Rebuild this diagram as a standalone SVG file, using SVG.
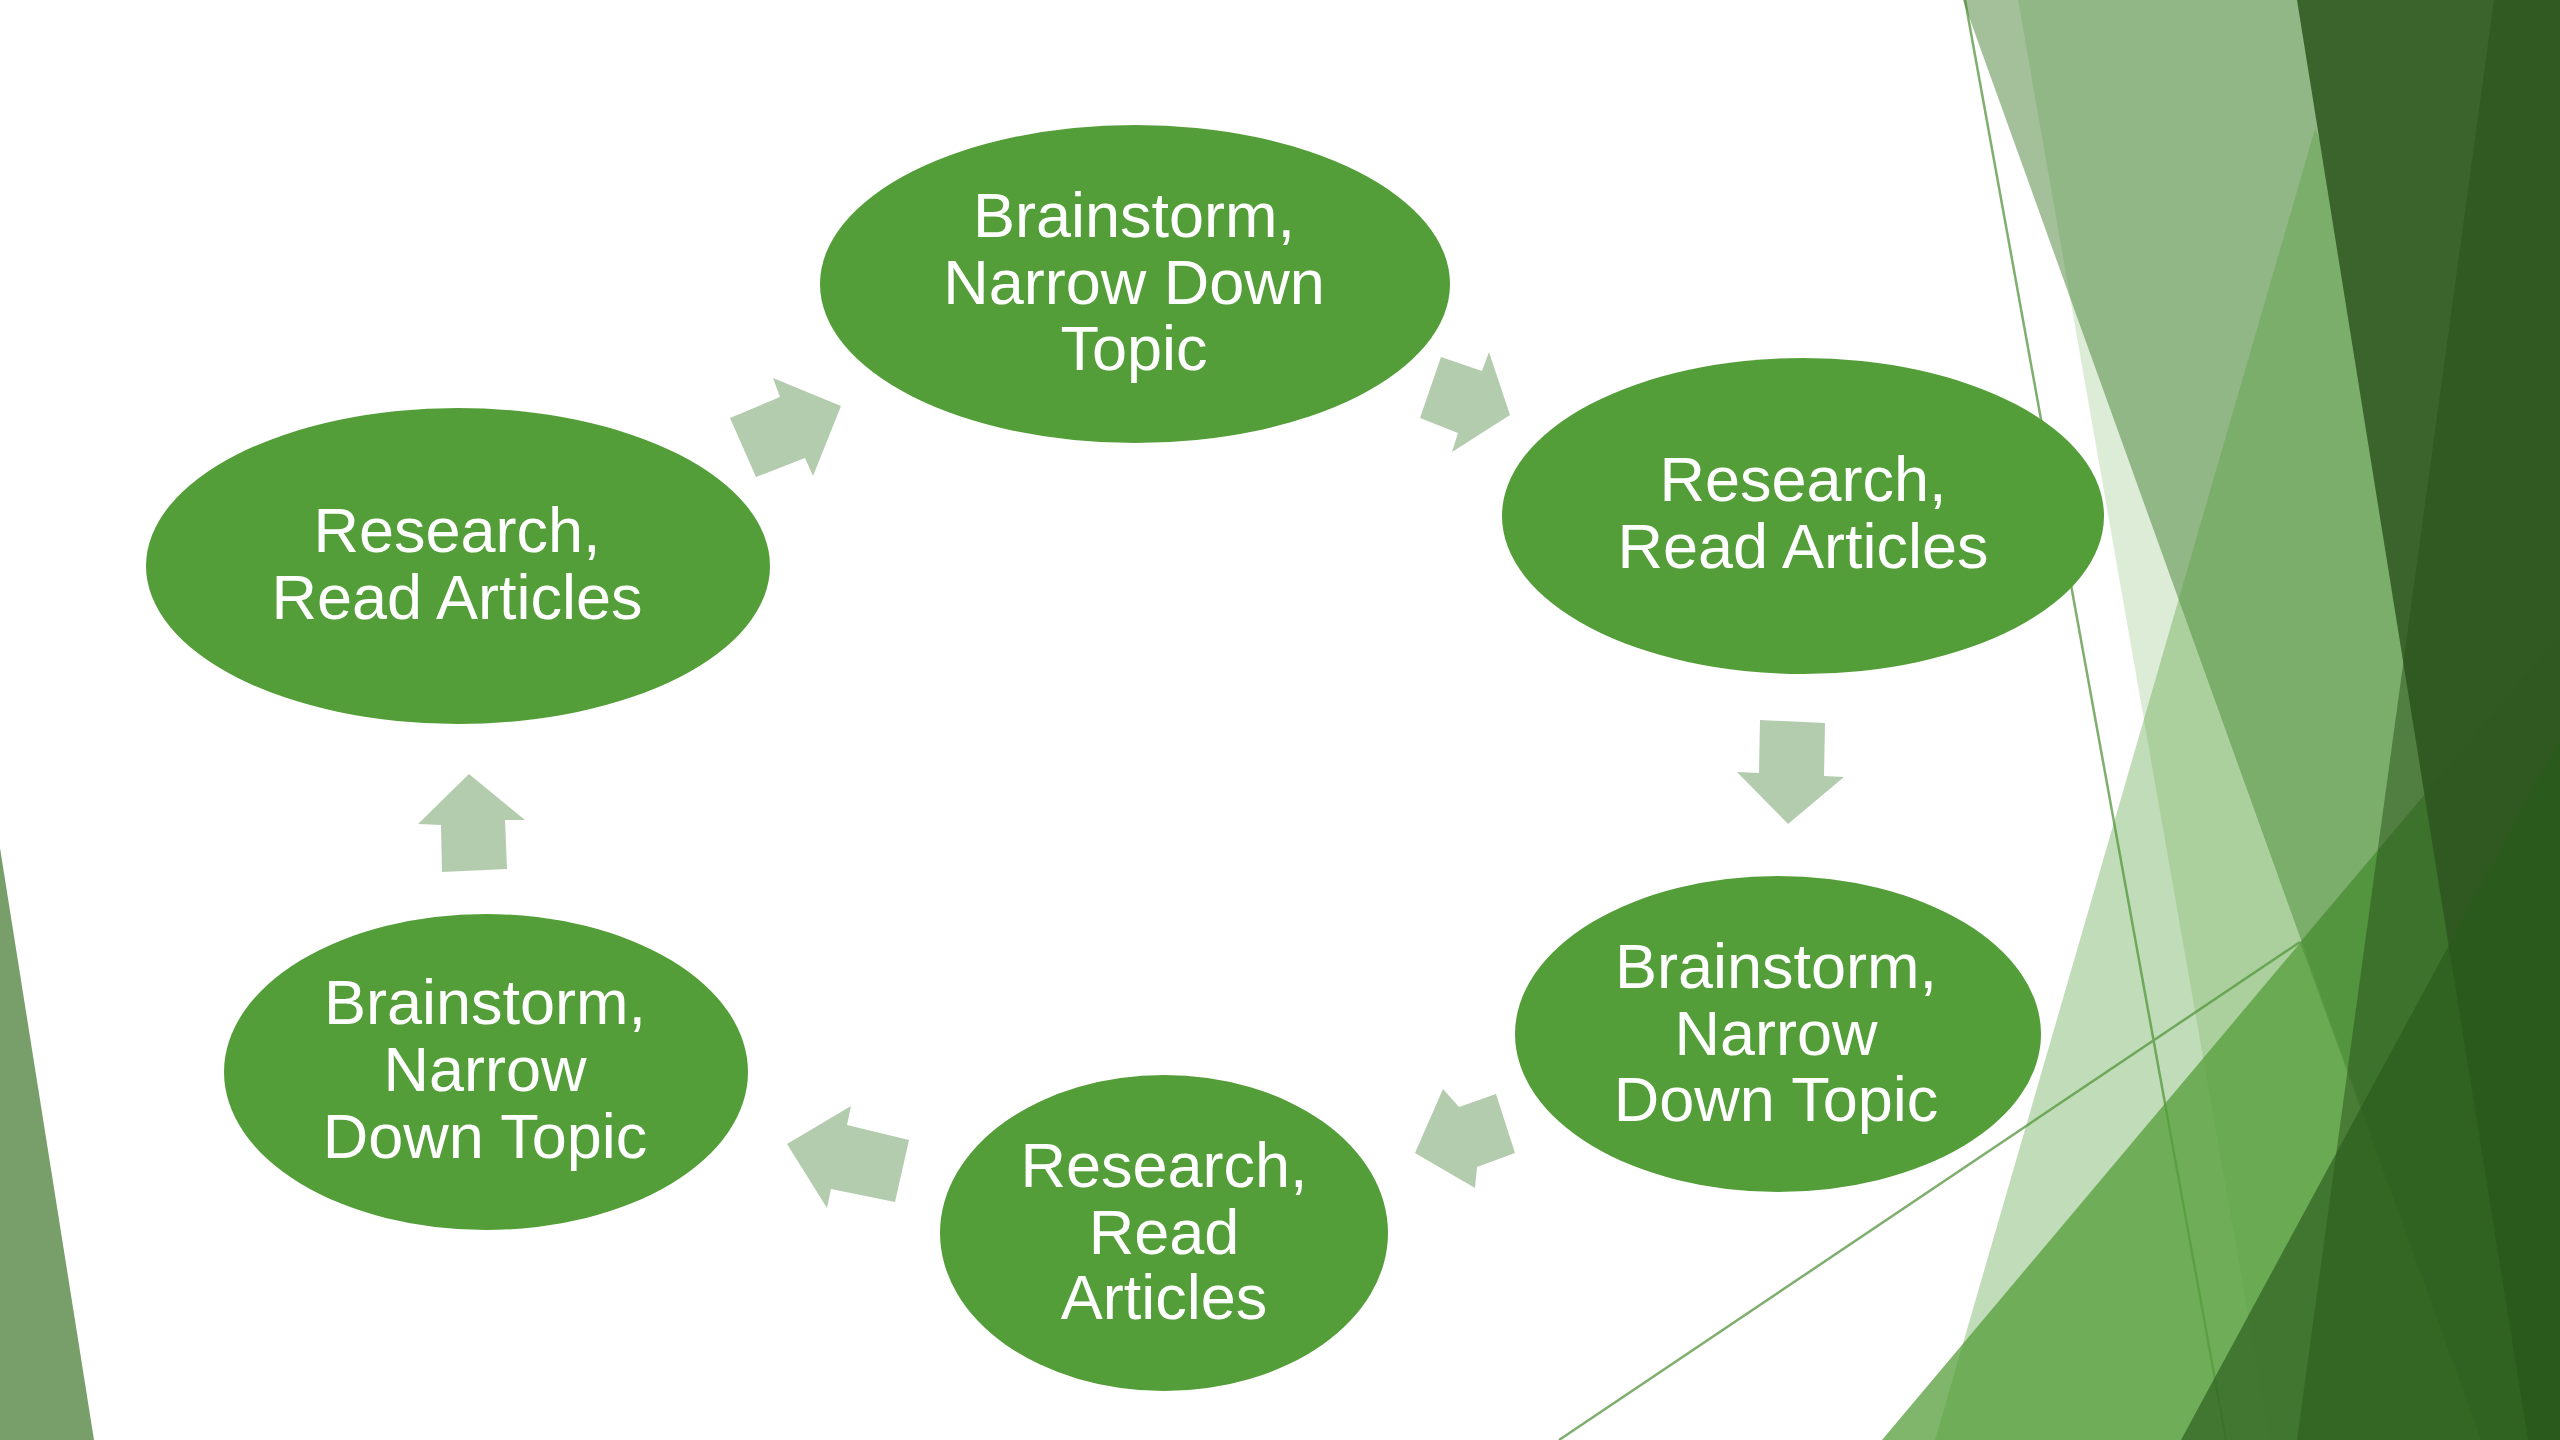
<svg xmlns="http://www.w3.org/2000/svg" width="2560" height="1440" viewBox="0 0 2560 1440">
  <style>
    .node ellipse { fill: #549e39; }
    .node text { fill: #ffffff; font-family: "Liberation Sans", Arial, sans-serif; font-size: 63px; text-anchor: middle; }
    .arrow { fill: #b3ccae; }
    .thin { stroke: #7fae6e; stroke-width: 2.5; fill: none; }
    .green { fill: #549e39; }
  </style>
  <rect width="2560" height="1440" fill="#ffffff"/>
  <g id="background">
    <line class="thin" x1="1965" y1="0" x2="2226" y2="1440"/>
    <line class="thin" x1="1559" y1="1440" x2="2300" y2="942"/>
    <polygon class="green" opacity="0.2" points="2018,0 2560,0 2560,1440 2270,1440"/>
    <polygon fill="#478135" opacity="0.5" points="1963,0 2560,0 2560,1440 2481,1440"/>
    <polygon class="green" opacity="0.36" points="2315,129 2560,700 2560,1440 1935,1440"/>
    <polygon class="green" opacity="0.75" points="1882,1440 2560,634 2560,1440"/>
    <polygon fill="#3f7a30" opacity="0.35" points="2300,942 2560,634 2560,1440 2481,1440"/>
    <polygon fill="#37612a" opacity="0.96" points="2297,0 2560,0 2560,1440 2528,1440"/>
    <polygon fill="#27501a" opacity="0.5" points="2494,0 2560,0 2560,1440 2297,1440"/>
    <polygon fill="#2a5a1c" opacity="0.65" points="2181,1440 2560,740 2560,1440"/>
    <polygon fill="#789e69" points="0,848 94,1440 0,1440"/>
  </g>
  <g id="connectors">
    <polygon class="arrow" points="730,418 780,397 773,378 841,406 813,476 805,458 756,477"/>
    <polygon class="arrow" points="1441,357 1482,371 1489,352 1510,415 1452,452 1458,433 1420,418"/>
    <polygon class="arrow" points="1760,720 1825,723 1824,776 1844,777 1788,824 1737,772 1759,773"/>
    <polygon class="arrow" points="1496,1094 1515,1153 1477,1167 1475,1188 1415,1153 1443,1089 1459,1107"/>
    <polygon class="arrow" points="909,1140 895,1202 831,1189 827,1208 787,1144 851,1106 847,1125"/>
    <polygon class="arrow" points="442,872 507,869 505,820 525,820 469,774 418,824 441,825"/>
  </g>
  <g id="node1" class="node">
    <ellipse cx="1135" cy="284" rx="315" ry="159"/>
    <text x="1134" y="237">Brainstorm,</text>
    <text x="1134" y="303.5">Narrow Down</text>
    <text x="1134" y="370">Topic</text>
  </g>
  <g id="node2" class="node">
    <ellipse cx="1803" cy="516" rx="301" ry="158"/>
    <text x="1803" y="501">Research,</text>
    <text x="1803" y="568">Read Articles</text>
  </g>
  <g id="node3" class="node">
    <ellipse cx="1778" cy="1034" rx="263" ry="158"/>
    <text x="1776" y="988">Brainstorm,</text>
    <text x="1776" y="1055">Narrow</text>
    <text x="1776" y="1121">Down Topic</text>
  </g>
  <g id="node4" class="node">
    <ellipse cx="1164" cy="1233" rx="224" ry="158"/>
    <text x="1164" y="1187">Research,</text>
    <text x="1164" y="1254">Read</text>
    <text x="1164" y="1319">Articles</text>
  </g>
  <g id="node5" class="node">
    <ellipse cx="486" cy="1072" rx="262" ry="158"/>
    <text x="485" y="1024">Brainstorm,</text>
    <text x="485" y="1091">Narrow</text>
    <text x="485" y="1158">Down Topic</text>
  </g>
  <g id="node6" class="node">
    <ellipse cx="458" cy="566" rx="312" ry="158"/>
    <text x="457" y="552">Research,</text>
    <text x="457" y="619">Read Articles</text>
  </g>
</svg>
